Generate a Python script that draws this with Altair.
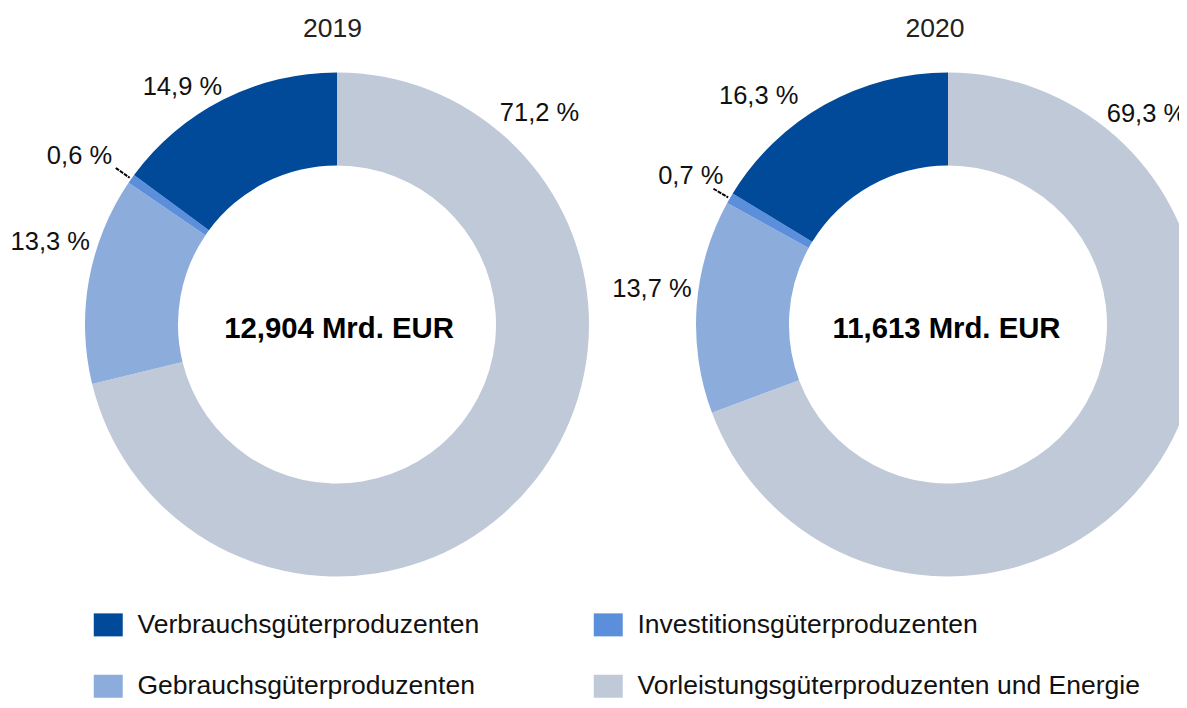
import math
import altair as alt
import pandas as pd

# ---------------- data ----------------
years = ["2019", "2020"]
totals = ["12,904 Mrd. EUR", "11,613 Mrd. EUR"]
# clockwise from 12 o'clock
categories = [
    "Vorleistungsgüterproduzenten und Energie",
    "Gebrauchsgüterproduzenten",
    "Investitionsgüterproduzenten",
    "Verbrauchsgüterproduzenten",
]
shares_2019 = [71.2, 13.3, 0.6, 14.9]
shares_2020 = [69.3, 13.7, 0.7, 16.3]

legend_order = [
    "Verbrauchsgüterproduzenten",
    "Investitionsgüterproduzenten",
    "Gebrauchsgüterproduzenten",
    "Vorleistungsgüterproduzenten und Energie",
]
legend_colors = ["#004A99", "#5B8FDB", "#8CADDC", "#C0C9D8"]

# ---------------- layout (not data) ----------------
W, H = 1171, 692
CX = [329, 940]
CY = 316.5
R_OUT, R_IN = 252, 159
FONT = "Liberation Sans"
# label anchor placement per year (angle in degrees clockwise from north, radius px),
# in category order
label_angle = {"2019": [37.4, 288.8, 307.1, 334.3], "2020": [36.8, 278.2, 303.7, 326.9]}
label_radius = {"2019": [268, 261, 282, 265], "2020": [265, 259, 270, 274]}
title_dx = {"2019": -4.5, "2020": -13}
center_dx = {"2019": 2, "2020": -1.5}

rows = []
for yr, shares in zip(years, [shares_2019, shares_2020]):
    start = 0.0
    for i, (cat, v) in enumerate(zip(categories, shares)):
        end = start + v
        mid = (start + end) / 2
        lab_deg = label_angle[yr][i]
        rows.append(
            dict(
                year=yr,
                cat=cat,
                value=v,
                start=start,
                end=end,
                mid=mid,
                lab=lab_deg / 3.6,
                labr=label_radius[yr][i],
                side="right" if lab_deg < 180 else "left",
                small=v < 1,
                label=f"{v:.1f}".replace(".", ",") + " %",
            )
        )
        start = end
df = pd.DataFrame(rows)
centers = pd.DataFrame({"year": years, "total": totals})

theta_scale = alt.Scale(domain=[0, 100], range=[0, 2 * math.pi])


def xenc(offsets=None):
    rng = CX if offsets is None else [c + offsets[y] for c, y in zip(CX, years)]
    return alt.X(
        "year:N",
        scale=alt.Scale(type="point", domain=years, range=rng, padding=0),
        axis=None,
    )


base = alt.Chart(df)

arcs = base.mark_arc(outerRadius=R_OUT, innerRadius=R_IN, stroke=None).encode(
    x=xenc(),
    y=alt.value(CY),
    theta=alt.Theta("start:Q", scale=theta_scale, stack=False),
    theta2="end:Q",
    color=alt.Color(
        "cat:N",
        scale=alt.Scale(domain=legend_order, range=legend_colors),
        legend=alt.Legend(
            title=None,
            orient="none",
            legendX=87,
            legendY=603.5,
            columns=2,
            direction="horizontal",
            symbolType="M-1.26,-1L1.26,-1L1.26,1L-1.26,1Z",
            symbolSize=529,
            symbolStrokeWidth=0,
            labelFont=FONT,
            labelFontSize=26.5,
            labelColor="#111111",
            labelOffset=16,
            labelLimit=600,
            columnPadding=113,
            rowPadding=34.5,
            padding=0,
        ),
    ),
)

leader = base.transform_filter("datum.small").mark_arc(
    outerRadius=271, innerRadius=254, fillOpacity=0, stroke="#000000",
    strokeWidth=2, strokeDash=[2, 3]
).encode(
    x=xenc(),
    y=alt.value(CY),
    theta=alt.Theta("mid:Q", scale=theta_scale, stack=False),
    theta2="mid:Q",
)


def labels(side, align):
    return base.transform_filter(f"datum.side == '{side}'").mark_text(
        font=FONT, fontSize=25.5, align=align, baseline="middle", color="#111111", dy=1.5
    ).encode(
        x=xenc(),
        y=alt.value(CY),
        theta=alt.Theta("lab:Q", scale=theta_scale, stack=False),
        radius=alt.Radius("labr:Q", scale=None),
        text="label:N",
    )


lab_left = labels("left", "right")
lab_right = labels("right", "left")

center_txt = alt.Chart(centers).mark_text(
    font=FONT, fontSize=29.3, fontWeight="bold", align="center", baseline="middle",
    color="#000000", dy=4
).encode(x=xenc(center_dx), y=alt.value(CY), text="total:N")

titles = alt.Chart(centers).mark_text(
    font=FONT, fontSize=26.5, align="center", baseline="middle", color="#222222"
).encode(x=xenc(title_dx), y=alt.value(21), text="year:N")

chart = (
    alt.layer(arcs, leader, lab_left, lab_right, center_txt, titles)
    .resolve_scale(x="independent")
    .properties(width=W, height=H, autosize=alt.AutoSizeParams(type="none"), padding=0)
    .configure_view(strokeWidth=0)
)

chart.save("out.html", embed_options={"renderer": "svg", "actions": False})
